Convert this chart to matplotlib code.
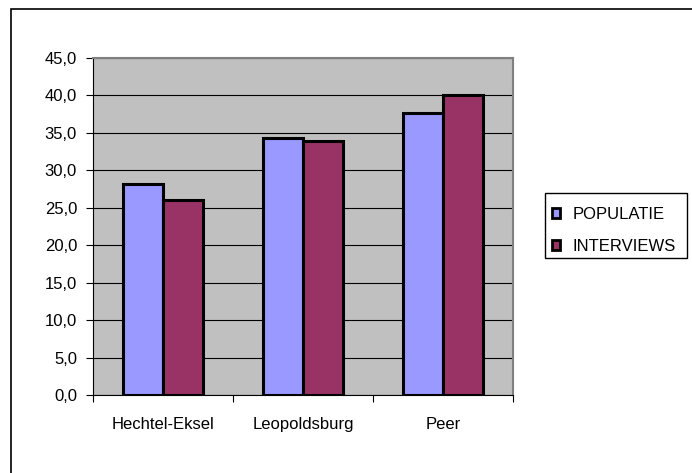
import matplotlib
matplotlib.use("Agg")
import matplotlib.pyplot as plt
from matplotlib.patches import Rectangle
import numpy as np

categories = ["Hechtel-Eksel", "Leopoldsburg", "Peer"]
populatie = [28.2, 34.3, 37.6]
interviews = [26.1, 33.9, 40.0]
series_names = ["POPULATIE", "INTERVIEWS"]
yticks = [0, 5, 10, 15, 20, 25, 30, 35, 40, 45]

plt.rcParams['font.family'] = ['Liberation Sans', 'DejaVu Sans']
FS = 12

W, H = 692, 473
fig = plt.figure(figsize=(W/100, H/100), dpi=100)
fig.patch.set_facecolor('white')

# outer chart border
fig.add_artist(Rectangle((11/W, 1 - 9/H - 2), 2, 2, transform=fig.transFigure,
                         fill=False, edgecolor='black', linewidth=1.2))

ax = fig.add_axes([93/W, 1 - 395/H, (513-93)/W, (395-58)/H])
ax.set_facecolor('#c0c0c0')

x = np.arange(len(categories))
bw = 40/140
ax.bar(x - bw/2, populatie, width=bw, color='#9999ff', edgecolor='black', linewidth=2.2, label=series_names[0], zorder=3)
ax.bar(x + bw/2, interviews, width=bw, color='#993366', edgecolor='black', linewidth=2.2, label=series_names[1], zorder=3)

ax.set_xlim(-0.5, len(categories) - 0.5)
ax.set_ylim(0, 45)
ax.set_yticks(yticks)
ax.set_yticklabels([f"{v:.1f}".replace('.', ',') for v in yticks], fontsize=FS)
ax.yaxis.grid(True, color='black', linewidth=0.8, zorder=1)
ax.set_axisbelow(True)

ax.set_xticks(np.arange(len(categories) + 1) - 0.5, minor=False)
ax.set_xticklabels([])
ax.set_xticks(x, minor=True)
ax.set_xticklabels(categories, minor=True, fontsize=FS)
ax.tick_params(axis='x', which='major', length=5, direction='out', color='black')
ax.tick_params(axis='x', which='minor', length=0, pad=16)
ax.tick_params(axis='y', length=5, direction='out', pad=6.5)

for s in ['top', 'right']:
    ax.spines[s].set_color('#808080')
    ax.spines[s].set_linewidth(1.5)
ax.spines['left'].set_color('black')
ax.spines['bottom'].set_color('black')

# legend frame
fig.add_artist(Rectangle((545/W, 1 - 258/H), (687-545)/W, (258-193)/H, transform=fig.transFigure,
                         fill=True, facecolor='white', edgecolor='black', linewidth=1.0))
leg = fig.legend(loc='upper left', bbox_to_anchor=(547/W, 1 - 202/H), fontsize=FS,
                 frameon=False,
                 handlelength=0.5, handleheight=0.5, handletextpad=0.75, labelspacing=1.03,
                 borderpad=0.3, borderaxespad=0)
for h in leg.legend_handles:
    h.set_linewidth(2.0)

fig.savefig("out.png", dpi=100)
